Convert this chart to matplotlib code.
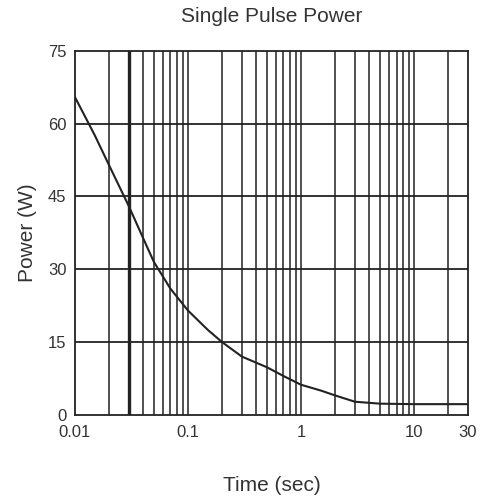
import matplotlib
matplotlib.use("Agg")
import matplotlib.pyplot as plt
import numpy as np

plt.rcParams['font.family'] = ['Liberation Sans', 'DejaVu Sans']

time_s = [0.01, 0.015, 0.02, 0.03, 0.04, 0.05, 0.07, 0.1, 0.15, 0.2, 0.3, 0.5, 0.7, 1, 1.5, 2, 3, 5, 10, 30]
power_w = [65.5, 57.6, 51.5, 43, 36.5, 31.5, 26, 21.5, 17.5, 15, 12, 9.8, 8.0, 6.2, 5.0, 4.0, 2.7, 2.3, 2.2, 2.2]
y_ticks = [0, 15, 30, 45, 60, 75]
x_ticks = [0.01, 0.1, 1, 10, 30]
x_tick_labels = ["0.01", "0.1", "1", "10", "30"]

fig = plt.figure(figsize=(4.86, 4.98), dpi=100)
ax = fig.add_axes([0.154, 0.167, 0.809, 0.731])
ax.set_xscale('log')
ax.set_xlim(0.01, 30)
ax.set_ylim(0, 75)

# vertical grid at every minor decade position
grid_x = []
for dec in [0.01, 0.1, 1, 10]:
    for m in range(1, 10):
        v = dec * m
        if 0.01 < v < 30:
            grid_x.append(v)
for v in grid_x:
    lw = 2.4 if abs(v - 0.03) < 1e-9 else 1.1
    ax.axvline(v, color='#222222', lw=lw, zorder=1)
for v in y_ticks[1:-1]:
    ax.axhline(v, color='#222222', lw=1.3, zorder=1)

ax.plot(time_s, power_w, color='#222222', lw=1.5, zorder=3)

ax.set_yticks(y_ticks)
ax.set_xticks(x_ticks)
ax.set_xticklabels(x_tick_labels)
ax.xaxis.set_minor_locator(matplotlib.ticker.NullLocator())
ax.tick_params(axis='both', length=0, labelsize=12, colors='#333333')
ax.tick_params(axis='x', pad=7)
ax.tick_params(axis='y', pad=6)
for s in ax.spines.values():
    s.set_color('#222222')
    s.set_linewidth(1.3)

ax.set_title("Single Pulse Power", fontsize=15, color='#333333', pad=21)
ax.set_xlabel("Time (sec)", fontsize=15, color='#333333', labelpad=26)
ax.set_ylabel("Power (W)", fontsize=15, color='#333333', labelpad=8)

fig.savefig("out.png", dpi=100)
